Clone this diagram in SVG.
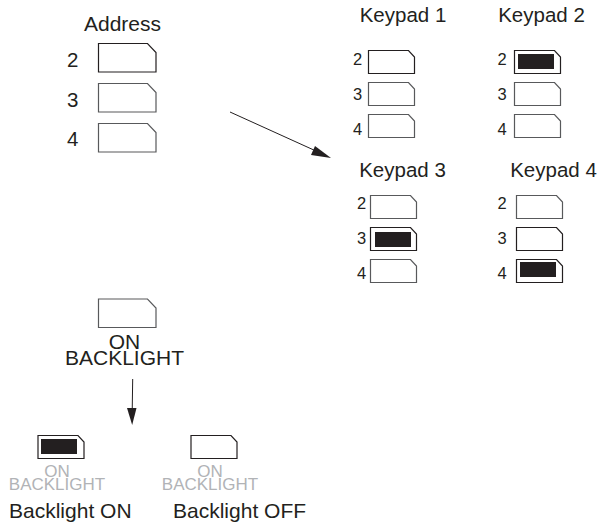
<svg xmlns="http://www.w3.org/2000/svg" width="599" height="524" viewBox="0 0 599 524">
<style>
text{font-family:"Liberation Sans",Arial,sans-serif;fill:#231f20}
.t{font-size:20.500px}.l{font-size:21px}.n{font-size:20.500px}.s{font-size:16.500px}
.g{font-size:17px;fill:#b1b3b6;text-anchor:middle}
.m{text-anchor:middle}
.b{fill:#fff;stroke:#231f20;stroke-width:1.2}
.b2{fill:#fff;stroke:#58595b;stroke-width:1.2}
.f{fill:#231f20}
.c{fill:none;stroke:#231f20;stroke-width:1}
</style>
<defs>
<path id="L" d="M0 0H49L57.500 9V28.500H0Z"/>
<path id="K" d="M0 0H40L46 6.500V23H0Z"/>
</defs>
<rect width="599" height="524" fill="#fff"/>
<g id="connectors">
<path class="c" d="M230 112L316 151"/>
<path class="f" d="M331 158L311 155L315 146Z"/>
<path class="c" d="M132.700 379L132.200 412"/>
<path class="f" d="M132.200 425L127 408H136.500Z"/>
</g>
<g id="address">
<text class="l m" x="122.500" y="31">Address</text>
<text class="n" x="67" y="67">2</text><use href="#L" class="b" x="98.500" y="43.500"/>
<text class="n" x="67" y="107">3</text><use href="#L" class="b2" x="98.500" y="83.500"/>
<text class="n" x="67" y="146">4</text><use href="#L" class="b2" x="98.500" y="123.500"/>
</g>
<g id="keypad1">
<text class="t m" x="403" y="21.500">Keypad 1</text>
<text class="s" x="353" y="65">2</text><use href="#K" class="b" x="368.500" y="50.500"/>
<text class="s" x="353" y="100">3</text><use href="#K" class="b2" x="368.500" y="82.500"/>
<text class="s" x="353" y="135">4</text><use href="#K" class="b2" x="368.500" y="114.500"/>
</g>
<g id="keypad2">
<text class="t m" x="541.500" y="21.500">Keypad 2</text>
<text class="s" x="497.500" y="65">2</text><use href="#K" class="b" x="514.500" y="50.500"/><rect class="f" x="518" y="54" width="36" height="15"/>
<text class="s" x="497.500" y="100">3</text><use href="#K" class="b2" x="514.500" y="82.500"/>
<text class="s" x="497.500" y="135">4</text><use href="#K" class="b2" x="514.500" y="114.500"/>
</g>
<g id="keypad3">
<text class="t m" x="402.500" y="177">Keypad 3</text>
<text class="s" x="357" y="209">2</text><use href="#K" class="b2" x="370.500" y="195.500"/>
<text class="s" x="357" y="244">3</text><use href="#K" class="b" x="370.500" y="227.500"/><rect class="f" x="375" y="232" width="36" height="15"/>
<text class="s" x="357" y="279">4</text><use href="#K" class="b2" x="370.500" y="259.500"/>
</g>
<g id="keypad4">
<text class="t m" x="553.500" y="177">Keypad 4</text>
<text class="s" x="497.500" y="209">2</text><use href="#K" class="b2" x="516.500" y="195.500"/>
<text class="s" x="497.500" y="244">3</text><use href="#K" class="b" x="516.500" y="227.500"/>
<text class="s" x="497.500" y="279">4</text><use href="#K" class="b" x="516.500" y="259.500"/><rect class="f" x="520" y="262" width="36" height="15"/>
</g>
<g id="backlight">
<use href="#L" class="b2" x="98.500" y="299"/>
<text class="l m" x="124.500" y="349">ON</text>
<text class="l m" x="124.500" y="365">BACKLIGHT</text>
</g>
<g id="backlight-on">
<use href="#K" class="b" x="38" y="435.500"/><rect class="f" x="41" y="439" width="36" height="15"/>
<text class="g" x="57" y="477">ON</text>
<text class="g" x="57" y="490">BACKLIGHT</text>
<text class="l" x="9" y="518">Backlight ON</text>
</g>
<g id="backlight-off">
<use href="#K" class="b" x="191" y="435.500"/>
<text class="g" x="210" y="477">ON</text>
<text class="g" x="210" y="490">BACKLIGHT</text>
<text class="l" x="173" y="518">Backlight OFF</text>
</g>
</svg>
